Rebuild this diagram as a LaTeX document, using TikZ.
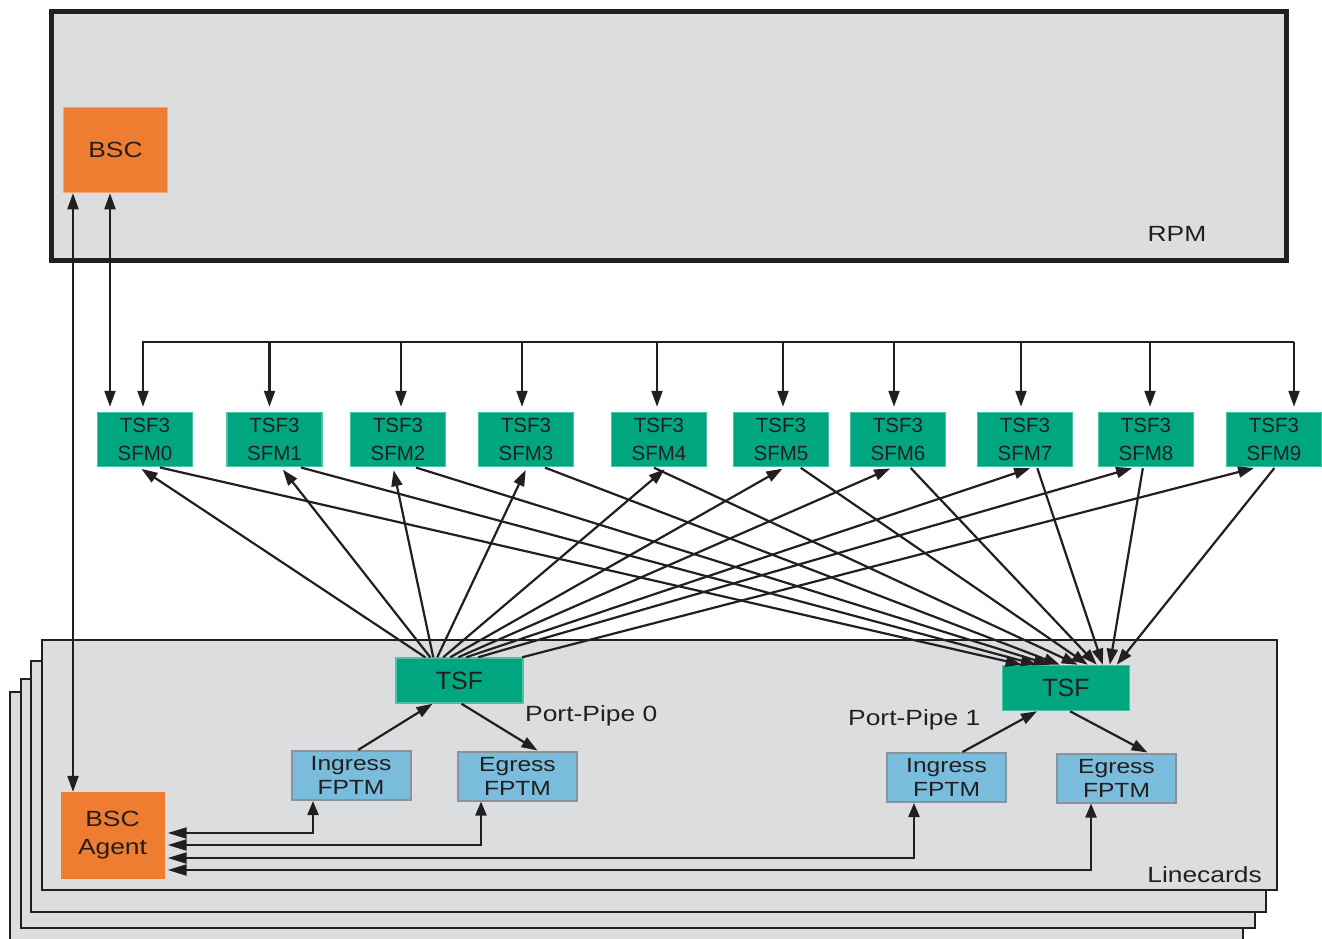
\documentclass[tikz,border=0pt]{standalone}
\usepackage{fontspec}
\setmainfont{Liberation Sans}
\newfontfamily\widesf[FakeStretch=1.2]{Liberation Sans}
\usetikzlibrary{arrows.meta}

\definecolor{bscorange}{HTML}{EE7D31}
\definecolor{bscedge}{HTML}{F5A778}
\definecolor{sfmgreen}{HTML}{00A680}
\definecolor{sfmedge}{HTML}{4CC3A0}
\definecolor{fptmblue}{HTML}{79BCDB}
\definecolor{fptmedge}{HTML}{8A9399}
\definecolor{cardgray}{HTML}{DCDDDF}
\definecolor{inkdark}{HTML}{231F20}

\tikzset{
  card/.style={draw=inkdark,line width=2.2pt,fill=cardgray},
  bscbox/.style={fill=bscorange,inner sep=0pt,align=center,text=inkdark,
    font=\widesf\fontsize{22}{28}\selectfont},
  sfmbox/.style={draw=sfmedge,line width=1.5pt,fill=sfmgreen,minimum width=95pt,
    minimum height=54pt,inner sep=0pt,align=center,text=inkdark,
    font=\fontsize{20.5}{28}\selectfont},
  tsfbox/.style={draw=sfmedge,line width=1.5pt,fill=sfmgreen,minimum width=127pt,
    minimum height=45pt,inner sep=0pt,text=inkdark,font=\fontsize{25}{28}\selectfont},
  fptmbox/.style={draw=fptmedge,line width=2pt,fill=fptmblue,minimum width=119pt,
    minimum height=49pt,inner sep=0pt,align=center,text=inkdark,
    font=\widesf\fontsize{20.5}{24}\selectfont},
  lbl/.style={inner sep=0pt,text=inkdark,font=\widesf\fontsize{22}{26}\selectfont},
  link/.style={line width=2.2pt,draw=inkdark,-{Triangle[length=16pt,width=11pt]}},
  duplex/.style={line width=2.2pt,draw=inkdark,
    {Triangle[length=14pt,width=11pt]}-{Triangle[length=19pt,width=11pt]}},
  bothtips/.style={line width=2.2pt,draw=inkdark,
    {Triangle[length=16pt,width=11pt]}-{Triangle[length=16pt,width=11pt]}},
}

\begin{document}
\begin{tikzpicture}[x=1pt,y=-1pt]
  \useasboundingbox (0,0) rectangle (1322,938);

  % RPM card
  \draw[line width=5pt,draw=inkdark,fill=cardgray] (51.5,11.5) rectangle (1286,260);
  \node[lbl] (rpm) at (1177,234) {RPM};
  \node[bscbox,draw=bscedge,line width=1.5pt,minimum width=104pt,minimum height=85pt]
    (bsc) at (115.5,150) {BSC};

  % stack of linecards, back to front
  \foreach \l/\t/\r/\b in {10/692/1243/948,21/679/1255/928,31/661/1266/912,42/640/1277/890}
    \draw[card] (\l,\t) rectangle (\r,\b);
  \node[lbl,anchor=east] (lc) at (1262,875) {Linecards};

  % switch fabric modules and the bus above them
  \coordinate (busL) at (142,342);
  \coordinate (busR) at (1294,342);
  \draw[line width=2.2pt,draw=inkdark] (busL) -- (busR);
  \foreach \i/\x/\d in {0/145/-2,1/274.5/-5,2/398/3,3/526/-4,4/659/-2,
                        5/781/2,6/898/-4,7/1025/-4,8/1146/4,9/1274/20} {
    \node[sfmbox] (sfm\i) at (\x,439.5) {TSF3\\SFM\i};
    \coordinate (drop\i) at ([xshift=\d pt]sfm\i.north);
    \draw[link,shorten >=5pt] (drop\i |- busL) -- (drop\i);
  }

  % port pipes
  \node[tsfbox] (tsfa) at (459.5,680.5) {TSF};
  \node[tsfbox] (tsfb) at (1066,688) {TSF};
  \node[fptmbox] (fpia) at (351,775.5) {Ingress\\FPTM};
  \node[fptmbox] (fpea) at (517.5,776) {Egress\\FPTM};
  \node[fptmbox] (fpib) at (946.5,777.5) {Ingress\\FPTM};
  \node[fptmbox] (fpeb) at (1116.5,778) {Egress\\FPTM};
  \node[lbl,anchor=west] (ppa) at (525,716) {Port-Pipe 0};
  \node[lbl,anchor=west] (ppb) at (848,720) {Port-Pipe 1};
  \node[bscbox,minimum width=104pt,minimum height=87pt] (agent) at (112.5,835.5) {BSC\\Agent};

  \draw[link] ([xshift=7pt]fpia.north) -- ([xshift=-27pt]tsfa.south);
  \draw[link] ([xshift=2pt]tsfa.south) -- ([xshift=20pt]fpea.north);
  \draw[link] ([xshift=16pt]fpib.north) -- ([xshift=-29pt]tsfb.south);
  \draw[link] ([xshift=4pt]tsfb.south) -- ([xshift=31pt]fpeb.north);

  % fabric mesh
  \foreach \i/\s/\t in {0/30/-6,1/35/6.5,2/38/-5,3/42/1,4/48/8,
                        5/55/4,6/63/-5,7/71/8,8/83/-11,9/127/-17}
    \draw[link,shorten >=3pt] ([xshift=\s pt]tsfa.north west) -- ([xshift=\t pt]sfm\i.south);
  \foreach \i/\s/\t in {0/14/20,1/25.5/35,2/17/48,3/18/58,4/-6/76,
                        5/19/86,6/12/95,7/12/101,8/-3/108,9/1/115}
    \draw[link,shorten <=1pt] ([xshift=\s pt]sfm\i.south) -- ([xshift=\t pt]tsfb.north west);

  % control paths
  \draw[bothtips,shorten >=5pt] ([xshift=-5.5pt]bsc.south) -- ([xshift=-35pt]sfm0.north);
  \draw[bothtips] ([xshift=-42.5pt]bsc.south) -- ([xshift=-39.5pt]agent.north);
  \foreach \f/\dx/\dy in {fpia/-38/2.5,fpea/-36.5/-9.5,fpib/-32.5/-22.5,fpeb/-25.5/-34.5}
    \draw[duplex] ([xshift=\dx pt]\f.south) |- ([xshift=3pt,yshift=\dy pt]agent.east);
\end{tikzpicture}
\end{document}
